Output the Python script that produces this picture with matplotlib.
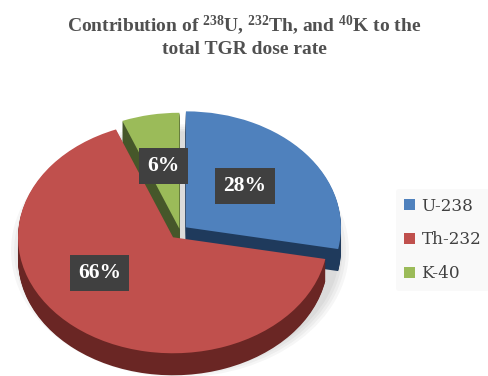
import matplotlib
matplotlib.use('Agg')
import matplotlib.pyplot as plt

labels = ['U-238', 'Th-232', 'K-40']
shares = [28, 66, 6]
top_colors = ['#4F81BD', '#C0504D', '#9BBB59']
side_colors = ['#1F3A5C', '#6A2624', '#46572A']
explode = [0.05, 0.07, 0.02]

plt.rcParams['mathtext.fontset'] = 'custom'
plt.rcParams['mathtext.rm'] = 'Liberation Serif:bold'
plt.rcParams['mathtext.it'] = 'Liberation Serif:bold'
plt.rcParams['mathtext.bf'] = 'Liberation Serif:bold'

fig = plt.figure(figsize=(4.88, 3.76), dpi=100)
ax = fig.add_axes([0, 0, 370/488, 286/376])

# soft shadow around the pie
for r in [1.09, 1.07, 1.05, 1.03]:
    sh, _ = ax.pie([1], radius=r, center=(0.0, -0.17), colors=['#000000'],
                   wedgeprops=dict(linewidth=0, alpha=0.035))
    sh[0].set_zorder(0.5)

# fake 3d: stack darker copies below the top face
depth = 0.19
nlayers = 24
side_z = [1.0, 1.2, 1.1]
for k in range(nlayers, 0, -1):
    dy = -depth*k/nlayers
    wedges, _ = ax.pie(shares, explode=explode, startangle=90, counterclock=False,
                       center=(0, dy), colors=side_colors, wedgeprops=dict(linewidth=0))
    for i, w in enumerate(wedges):
        w.set_zorder(side_z[i])

wedges, texts, autotexts = ax.pie(shares, explode=explode, startangle=90, counterclock=False,
                                  colors=top_colors, autopct='%1.0f%%', pctdistance=0.55,
                                  wedgeprops=dict(linewidth=0))
for w in wedges:
    w.set_zorder(2)
for t in autotexts:
    t.set_zorder(3)
    t.set_color('white')
    t.set_fontfamily('Liberation Serif')
    t.set_fontweight('bold')
    t.set_fontsize(15.5)
    t.set_bbox(dict(boxstyle='square,pad=0.38', facecolor='#404040', edgecolor='none'))
autotexts[0].set_position((0.42, 0.39))
autotexts[1].set_position((-0.52, -0.36))

ax.set_xlim(-1.161, 1.226)
ax.set_ylim(-1.25, 1.216)
ax.set_aspect('auto')
ax.axis('off')

fig.text(0.5, 1-31/376, r'Contribution of $^{238}$U, $^{232}$Th, and $^{40}$K to the',
         ha='center', va='baseline', fontsize=14, fontweight='bold',
         family='Liberation Serif', color='#505050')
fig.text(0.5, 1-54/376, 'total TGR dose rate', ha='center', va='baseline', fontsize=14,
         fontweight='bold', family='Liberation Serif', color='#505050')

leg = fig.legend(wedges, labels, loc='center left', bbox_to_anchor=(396/488, 1-240/376),
                 prop={'family': 'DejaVu Serif', 'size': 12.2}, frameon=True,
                 handlelength=0.65, handleheight=0.65, handletextpad=0.35,
                 labelspacing=1.0, borderpad=0.5, borderaxespad=0.0)
leg.get_frame().set_facecolor('#F8F8F8')
leg.get_frame().set_edgecolor('none')
for t in leg.get_texts():
    t.set_color('#404040')

fig.savefig('out.png', dpi=100)
